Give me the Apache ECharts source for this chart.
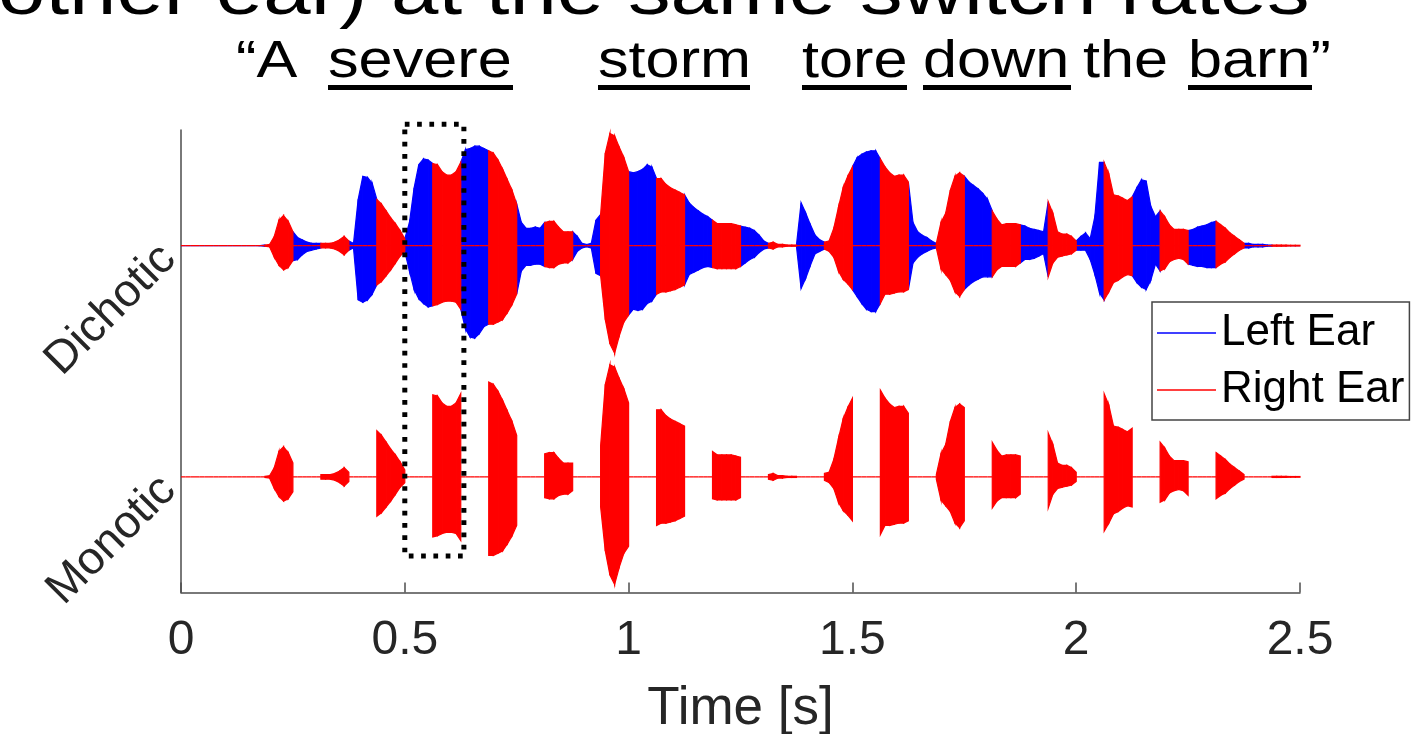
<!DOCTYPE html>
<html>
<head>
<meta charset="utf-8">
<script src="https://cdn.jsdelivr.net/npm/echarts@6/dist/echarts.min.js"></script>
<style>
  html, body { margin: 0; padding: 0; background: #ffffff; }
  #chart { width: 1423px; height: 734px; }
</style>
</head>
<body>
<div id="chart"></div>
<script>
// Sentence waveform, switched between ears every 62.5 ms (8 Hz alternation).
const SEGMENT_SEC = 0.0625;        // duration each ear is on
const SAMPLES_PER_SEGMENT = 6;     // envelope samples per segment

// Peak envelope of the speech waveform (upper / lower), one row per segment.
const envHi = [0,
  0, 0, 0, 0, 0, 0,
  0, 0, 0, 0, 0, 0,
  0, 0, 0, 0, 0, 0.005,
  0.01, 0.08, 0.22, 0.26, 0.21, 0.12,
  0.07, 0.05, 0.03, 0.02, 0.02, 0.02,
  0.02, 0.02, 0.03, 0.05, 0.08, 0.04,
  0.02, 0.40, 0.60, 0.59, 0.54, 0.40,
  0.36, 0.30, 0.24, 0.19, 0.13, 0.06,
  0.20, 0.50, 0.70, 0.75, 0.74, 0.71,
  0.70, 0.64, 0.61, 0.61, 0.64, 0.72,
  0.83, 0.84, 0.86, 0.86, 0.84, 0.82,
  0.80, 0.74, 0.66, 0.57, 0.48, 0.36,
  0.20, 0.15, 0.15, 0.16, 0.15, 0.20,
  0.21, 0.21, 0.16, 0.12, 0.12, 0.12,
  0.08, 0.02, 0.01, 0.02, 0.22, 0.27,
  0.80, 0.97, 0.95, 0.85, 0.76, 0.64,
  0.63, 0.64, 0.66, 0.70, 0.68, 0.58,
  0.58, 0.53, 0.50, 0.48, 0.46, 0.44,
  0.37, 0.33, 0.30, 0.27, 0.25, 0.22,
  0.19, 0.19, 0.19, 0.19, 0.18, 0.17,
  0.16, 0.15, 0.13, 0.09, 0.04, 0.02,
  0.03, 0.01, 0.01, 0.005, 0.005, 0.005,
  0.37, 0.28, 0.18, 0.09, 0.05, 0.03,
  0.04, 0.15, 0.33, 0.50, 0.60, 0.68,
  0.76, 0.79, 0.81, 0.82, 0.82, 0.75,
  0.68, 0.63, 0.60, 0.61, 0.61, 0.55,
  0.20, 0.12, 0.09, 0.07, 0.04, 0.02,
  0.20, 0.28, 0.48, 0.60, 0.63, 0.60,
  0.55, 0.52, 0.49, 0.45, 0.40, 0.30,
  0.23, 0.18, 0.19, 0.19, 0.19, 0.18,
  0.17, 0.15, 0.14, 0.13, 0.12, 0.38,
  0.28, 0.12, 0.10, 0.10, 0.08, 0.04,
  0.08, 0.11, 0.06, 0.25, 0.72, 0.72,
  0.62, 0.44, 0.43, 0.41, 0.39, 0.42,
  0.50, 0.57, 0.56, 0.34, 0.25, 0.30,
  0.25, 0.18, 0.14, 0.14, 0.14, 0.13,
  0.14, 0.16, 0.17, 0.18, 0.20, 0.21,
  0.18, 0.15, 0.11, 0.08, 0.05, 0.02,
  0.02, 0.01, 0.01, 0.01, 0.005, 0.005,
  0.005, 0.005, 0.004, 0.003, 0.003, 0.003
];
const envLo = [0,
  0, 0, 0, 0, 0, 0,
  0, 0, 0, 0, 0, 0,
  0, 0, 0, 0, 0, -0.005,
  -0.01, -0.10, -0.17, -0.21, -0.19, -0.13,
  -0.12, -0.08, -0.05, -0.04, -0.03, -0.02,
  -0.02, -0.02, -0.03, -0.05, -0.08, -0.04,
  -0.02, -0.47, -0.49, -0.47, -0.42, -0.34,
  -0.31, -0.26, -0.21, -0.15, -0.09, -0.05,
  -0.22, -0.38, -0.46, -0.50, -0.53, -0.52,
  -0.51, -0.49, -0.48, -0.48, -0.49, -0.55,
  -0.72, -0.79, -0.80, -0.76, -0.70, -0.68,
  -0.68, -0.66, -0.64, -0.58, -0.51, -0.42,
  -0.22, -0.17, -0.17, -0.16, -0.16, -0.18,
  -0.19, -0.19, -0.16, -0.15, -0.15, -0.12,
  -0.05, -0.02, -0.01, -0.02, -0.24, -0.26,
  -0.64, -0.85, -0.93, -0.78, -0.66, -0.60,
  -0.55, -0.56, -0.55, -0.50, -0.48, -0.42,
  -0.40, -0.40, -0.39, -0.38, -0.36, -0.34,
  -0.25, -0.23, -0.21, -0.19, -0.18, -0.19,
  -0.20, -0.20, -0.20, -0.20, -0.20, -0.18,
  -0.15, -0.12, -0.10, -0.06, -0.03, -0.02,
  -0.03, -0.01, -0.01, -0.005, -0.005, -0.005,
  -0.37, -0.28, -0.17, -0.07, -0.05, -0.03,
  -0.05, -0.10, -0.22, -0.29, -0.33, -0.38,
  -0.44, -0.50, -0.55, -0.57, -0.57, -0.50,
  -0.42, -0.42, -0.41, -0.40, -0.40, -0.38,
  -0.15, -0.10, -0.07, -0.05, -0.03, -0.02,
  -0.20, -0.25, -0.30, -0.40, -0.44, -0.38,
  -0.34, -0.31, -0.29, -0.27, -0.27, -0.27,
  -0.21, -0.18, -0.18, -0.18, -0.18, -0.15,
  -0.12, -0.12, -0.11, -0.09, -0.07, -0.27,
  -0.15, -0.10, -0.09, -0.08, -0.07, -0.04,
  -0.04, -0.04, -0.12, -0.25, -0.41, -0.47,
  -0.40, -0.32, -0.30, -0.27, -0.25, -0.26,
  -0.32, -0.36, -0.38, -0.30, -0.16, -0.22,
  -0.20, -0.14, -0.12, -0.11, -0.12, -0.16,
  -0.17, -0.18, -0.18, -0.19, -0.19, -0.19,
  -0.16, -0.14, -0.10, -0.07, -0.04, -0.02,
  -0.02, -0.01, -0.01, -0.01, -0.005, -0.005,
  -0.005, -0.005, -0.004, -0.003, -0.003, -0.003
];

// Trace baselines on the shared vertical axis
const traceOffsets = { Dichotic: 0, Monotic: -2 };
const traceLabels = ['Dichotic', 'Monotic'];
const xTicks = [0, 0.5, 1, 1.5, 2, 2.5];
const earNames = ['Left Ear', 'Right Ear'];

// Highlighted stretch: [t start, t end, top value, bottom value]
const highlightBox = [0.5, 0.632, 1.05, -2.684];

const BLUE = '#0000ff';
const RED = '#ff0000';
const AXIS = '#4d4d4d';
const FONT = '"Liberation Sans", Arial, Helvetica, sans-serif';

const dt = SEGMENT_SEC / SAMPLES_PER_SEGMENT;
const nIntervals = envHi.length - 1;

// ear 0 = left (even segments), ear 1 = right (odd segments)
function earItems(ear) {
  const items = [];
  for (let k = 0; k < nIntervals; k++) {
    const seg = Math.floor(k / SAMPLES_PER_SEGMENT);
    const on = (seg % 2) === ear;
    const t0 = k * dt, t1 = (k + 1) * dt;
    items.push(on
      ? [t0, t1, envHi[k], envHi[k + 1], envLo[k], envLo[k + 1]]
      : [t0, t1, 0, 0, 0, 0]);
  }
  return items;
}

function waveRenderer(offset, color) {
  return function (params, api) {
    const t0 = api.value(0), t1 = api.value(1);
    const p1 = api.coord([t0, offset + api.value(2)]);
    const p2 = api.coord([t1, offset + api.value(3)]);
    const p3 = api.coord([t1, offset + api.value(5)]);
    const p4 = api.coord([t0, offset + api.value(4)]);
    return {
      type: 'polygon',
      shape: { points: [p1, p2, p3, p4] },
      style: { fill: color, stroke: color, lineWidth: 1.2 }
    };
  };
}

function waveSeries(name, ear, offset, color) {
  return {
    type: 'custom',
    name: name,
    renderItem: waveRenderer(offset, color),
    data: earItems(ear),
    encode: { x: [0, 1], y: [2, 3, 4, 5] },
    itemStyle: { color: color },
    silent: true,
    clip: false
  };
}

const chart = echarts.init(document.getElementById('chart'), null, { renderer: 'canvas' });

// Slide text above the plot
const titleText = 'other ear) at the same switch rates';
const sentenceWords = ['\u201cA', 'severe', 'storm', 'tore', 'down', 'the', 'barn\u201d'];
const sentenceX = [236, 328, 598, 802, 923, 1083, 1188];
const underlined = [false, true, true, true, true, false, true];
const underlineSpan = [null, [328, 513], [598, 750], [802, 907], [923, 1071], null, [1188, 1312]];

const graphics = [{
  type: 'text', x: -2, y: -6, scaleX: 1.2, z: 10,
  style: { text: titleText, font: '71px ' + FONT, fill: '#000', textAlign: 'left', textVerticalAlign: 'middle' }
}];
sentenceWords.forEach(function (w, i) {
  graphics.push({
    type: 'text', x: sentenceX[i], y: 63, scaleX: 1.2, z: 10,
    style: { text: w, font: '51px ' + FONT, fill: '#000', textAlign: 'left', textVerticalAlign: 'middle' }
  });
  if (underlined[i]) {
    const s = underlineSpan[i];
    graphics.push({
      type: 'rect', z: 10,
      shape: { x: s[0], y: 85, width: s[1] - s[0], height: 5 },
      style: { fill: '#000' }
    });
  }
});

const option = {
  animation: false,
  backgroundColor: '#ffffff',
  graphic: graphics,
  grid: {
    left: 181, right: 123, top: 130, bottom: 141.5,
    containLabel: false, outerBoundsMode: 'none'
  },
  legend: {
    orient: 'vertical',
    left: 1152, top: 302,
    data: earNames,
    icon: 'rect',
    itemWidth: 59, itemHeight: 1.5,
    itemGap: 5,
    padding: [5, 5, 4, 5],
    backgroundColor: '#ffffff',
    borderColor: '#444444', borderWidth: 1.5, borderRadius: 0,
    textStyle: { fontFamily: FONT, fontSize: 44, color: '#000', lineHeight: 52 },
    z: 20
  },
  xAxis: {
    type: 'value', min: xTicks[0], max: xTicks[xTicks.length - 1], interval: 0.5,
    axisLine: { show: true, onZero: false, lineStyle: { color: AXIS, width: 1.5 } },
    axisTick: { show: true, inside: true, length: 10, lineStyle: { color: AXIS, width: 1.5 } },
    axisLabel: { fontFamily: FONT, fontSize: 48, color: '#262626', margin: 24 },
    splitLine: { show: false },
    name: 'Time [s]', nameLocation: 'middle', nameGap: 90,
    nameTextStyle: { fontFamily: FONT, fontSize: 53, color: '#262626' }
  },
  yAxis: {
    type: 'value', min: -3, max: 1, interval: 1,
    axisLine: { show: true, onZero: false, lineStyle: { color: AXIS, width: 1.5 } },
    axisTick: { show: false },
    splitLine: { show: false },
    axisLabel: {
      fontFamily: FONT, fontSize: 46, color: '#262626', rotate: 45, margin: 6,
      padding: [7, 9, 0, 0],
      formatter: function (v) {
        if (v === traceOffsets.Dichotic) return traceLabels[0];
        if (v === traceOffsets.Monotic) return traceLabels[1];
        return '';
      }
    }
  },
  series: [
    waveSeries(earNames[0], 0, traceOffsets.Dichotic, BLUE),
    waveSeries(earNames[1], 1, traceOffsets.Dichotic, RED),
    waveSeries(earNames[1], 1, traceOffsets.Monotic, RED),
    {
      type: 'custom',
      name: 'highlight',
      silent: true,
      clip: false,
      z: 5,
      data: [highlightBox],
      encode: { x: [0, 1], y: [2, 3] },
      renderItem: function (params, api) {
        const a = api.coord([api.value(0), api.value(2)]);
        const b = api.coord([api.value(1), api.value(3)]);
        return {
          type: 'rect',
          shape: { x: a[0], y: a[1], width: b[0] - a[0], height: b[1] - a[1] },
          style: { fill: 'none', stroke: '#000', lineWidth: 5, lineDash: [4.7, 7.6] }
        };
      }
    }
  ]
};

chart.setOption(option);
</script>
</body>
</html>
